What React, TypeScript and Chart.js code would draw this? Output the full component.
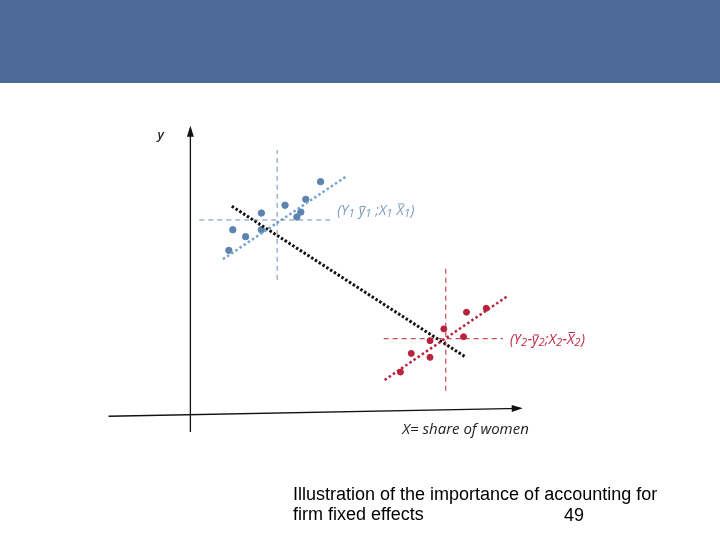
import { useEffect, useRef } from "react";
import { Chart, registerables } from "chart.js";

Chart.register(...registerables);

// units: tenths of the picture scale, origin where the two axes cross
const blueX = [13.2, 11.7, 9.6, 11.2, 10.8, 7.2, 4.3, 7.2, 5.6, 3.9];
const blueY = [23.7, 21.9, 21.3, 20.6, 20.1, 20.5, 18.8, 18.8, 18.1, 16.7];
const redX = [30.0, 28.0, 25.7, 27.7, 24.3, 22.4, 24.3, 21.3];
const redY = [10.8, 10.4, 8.7, 7.9, 7.5, 6.2, 5.8, 4.3];

const blueMean = { x: 8.8, y: 19.8 };
const redMean = { x: 25.9, y: 7.7 };
const blueCrossX = [0.9, 14.3];
const blueCrossY = [13.7, 26.9];
const redCrossX = [19.6, 31.7];
const redCrossY = [2.4, 15.2];

const blueFit = [
  { x: 3.3, y: 15.8 },
  { x: 15.9, y: 24.3 },
];
const redFit = [
  { x: 19.7, y: 3.5 },
  { x: 32.1, y: 12.0 },
];
const pooledFit = [
  { x: 4.2, y: 21.2 },
  { x: 27.8, y: 5.9 },
];

const xAxisLine = [
  { x: -8.3, y: -0.2 },
  { x: 33.5, y: 0.6 },
];
const yAxisLine = [
  { x: 0, y: -1.8 },
  { x: 0, y: 29.2 },
];

// label pieces: [text, subscript?, overbar?]
type Piece = [string, boolean, boolean];
const blueLabel: Piece[] = [
  ["(Y", false, false],
  ["1", true, false],
  [" ", false, false],
  ["y", false, true],
  ["1", true, false],
  [" ;X", false, false],
  ["1", true, false],
  [" ", false, false],
  ["X", false, true],
  ["1", true, false],
  [")", false, false],
];
const redLabel: Piece[] = [
  ["(Y", false, false],
  ["2", true, false],
  ["-", false, false],
  ["y", false, true],
  ["2", true, false],
  [";X", false, false],
  ["2", true, false],
  ["-", false, false],
  ["X", false, true],
  ["2", true, false],
  [")", false, false],
];

const BLUE = "#5b84b1";
const BLUE_LIGHT = "#76a3d0";
const RED = "#b8223a";

const zip = (xs: number[], ys: number[]) => xs.map((x, i) => ({ x, y: ys[i] }));

function drawPieces(ctx: CanvasRenderingContext2D, pieces: Piece[], x: number, y: number, size: number, color: string) {
  ctx.save();
  ctx.fillStyle = color;
  ctx.strokeStyle = color;
  ctx.lineWidth = 1;
  ctx.textAlign = "left";
  ctx.textBaseline = "alphabetic";
  let cx = x;
  for (const [t, sub, bar] of pieces) {
    const s = sub ? size * 0.8 : size;
    ctx.font = `italic ${s}px 'Open Sans'`;
    const w = ctx.measureText(t).width;
    const by = sub ? y + size * 0.15 : y;
    ctx.fillText(t, cx, by);
    if (bar) {
      const top = t === "y" ? y - size * 0.62 : y - size * 0.8;
      ctx.beginPath();
      ctx.moveTo(cx + 1.5, top);
      ctx.lineTo(cx + w + 0.5, top);
      ctx.stroke();
    }
    cx += w + (sub ? 0.5 : 0);
  }
  ctx.restore();
}

const labelsPlugin = {
  id: "labelsPlugin",
  afterDatasetsDraw(chart: any) {
    const { ctx, scales } = chart;
    const px = (v: number) => scales.x.getPixelForValue(v);
    const py = (v: number) => scales.y.getPixelForValue(v);

    const arrow = (from: { x: number; y: number }, to: { x: number; y: number }) => {
      const x1 = px(from.x), y1 = py(from.y), x2 = px(to.x), y2 = py(to.y);
      const a = Math.atan2(y2 - y1, x2 - x1);
      const len = 9, w = 3.5;
      ctx.save();
      ctx.fillStyle = "#111";
      ctx.beginPath();
      ctx.moveTo(x2 + Math.cos(a) * 2, y2 + Math.sin(a) * 2);
      ctx.lineTo(x2 - Math.cos(a) * len - Math.sin(a) * w, y2 - Math.sin(a) * len + Math.cos(a) * w);
      ctx.lineTo(x2 - Math.cos(a) * len + Math.sin(a) * w, y2 - Math.sin(a) * len - Math.cos(a) * w);
      ctx.closePath();
      ctx.fill();
      ctx.restore();
    };
    arrow(xAxisLine[0], xAxisLine[1]);
    arrow(yAxisLine[0], yAxisLine[1]);

    drawPieces(ctx, blueLabel, px(14.9), py(20.8) + 5, 14, "#7a9cc6");
    drawPieces(ctx, redLabel, px(32.4), py(7.7) + 5, 14, "#c0283f");

    ctx.save();
    ctx.textBaseline = "middle";
    ctx.fillStyle = "#222";
    ctx.font = "italic 15px 'Open Sans'";
    ctx.textAlign = "center";
    ctx.fillText("X= share of women", px(27.9), py(-1.6));
    ctx.font = "italic 600 13px 'Open Sans'";
    ctx.fillText("y", px(-3.0), py(28.4));
    ctx.restore();
  },
};

function FixedEffectsChart() {
  const canvasRef = useRef<HTMLCanvasElement | null>(null);
  const chartRef = useRef<Chart | null>(null);

  useEffect(() => {
    if (!canvasRef.current) return;
    const ctx = canvasRef.current.getContext("2d");
    if (!ctx) return;
    if (chartRef.current) chartRef.current.destroy();

    const line = (data: any[], color: string, width: number, dash: number[]) => ({
      type: "line" as const,
      data,
      borderColor: color,
      borderWidth: width,
      borderDash: dash,
      pointRadius: 0,
      showLine: true,
      fill: false,
    });

    chartRef.current = new Chart(ctx, {
      type: "scatter",
      data: {
        datasets: [
          line(xAxisLine, "#111", 1.3, []),
          line(yAxisLine, "#111", 1.3, []),
          line(
            [
              { x: blueCrossX[0], y: blueMean.y },
              { x: blueCrossX[1], y: blueMean.y },
            ],
            "#6a8fbf",
            1,
            [5, 4]
          ),
          line(
            [
              { x: blueMean.x, y: blueCrossY[0] },
              { x: blueMean.x, y: blueCrossY[1] },
            ],
            "#6a8fbf",
            1,
            [5, 4]
          ),
          line(
            [
              { x: redCrossX[0], y: redMean.y },
              { x: redCrossX[1], y: redMean.y },
            ],
            RED,
            1,
            [5, 4]
          ),
          line(
            [
              { x: redMean.x, y: redCrossY[0] },
              { x: redMean.x, y: redCrossY[1] },
            ],
            RED,
            1,
            [5, 4]
          ),
          line(blueFit, BLUE_LIGHT, 2.5, [2.5, 2.5]),
          line(redFit, RED, 2.5, [2.5, 2.5]),
          line(pooledFit, "#111", 3, [2.5, 2]),
          {
            data: zip(blueX, blueY),
            backgroundColor: BLUE,
            borderColor: BLUE,
            pointRadius: 3.2,
            showLine: false,
          },
          {
            data: zip(redX, redY),
            backgroundColor: RED,
            borderColor: RED,
            pointRadius: 3,
            showLine: false,
          },
        ],
      },
      options: {
        responsive: false,
        animation: false,
        layout: { padding: 0 },
        plugins: {
          legend: { display: false },
          tooltip: { enabled: false },
        },
        scales: {
          x: { type: "linear", min: -18.8, max: 53.2, display: false },
          y: { type: "linear", min: -12.3, max: 41.7, display: false },
        },
      },
      plugins: [labelsPlugin],
    });

    return () => chartRef.current?.destroy();
  }, []);

  return (
    <canvas
      ref={canvasRef}
      width={720}
      height={540}
      style={{ position: "absolute", left: 0, top: 0, width: 720, height: 540 }}
    />
  );
}

export default function App() {
  return (
    <div
      style={{
        position: "fixed",
        left: 0,
        top: 0,
        width: 720,
        height: 540,
        background: "#fff",
        overflow: "hidden",
        fontFamily: "'Liberation Sans', Arial, sans-serif",
      }}
    >
      <div
        style={{
          position: "absolute",
          left: 0,
          top: 0,
          width: 720,
          height: 83,
          background: "#4e6b98",
        }}
      />
      <FixedEffectsChart />
      <div
        style={{
          position: "absolute",
          left: 293,
          top: 484,
          fontSize: 18,
          lineHeight: "20px",
          color: "#000",
          whiteSpace: "nowrap",
        }}
      >
        Illustration of the importance of accounting for
        <br />
        firm fixed effects
      </div>
      <div
        style={{
          position: "absolute",
          left: 564,
          top: 505,
          fontSize: 18,
          color: "#000",
        }}
      >
        49
      </div>
    </div>
  );
}
